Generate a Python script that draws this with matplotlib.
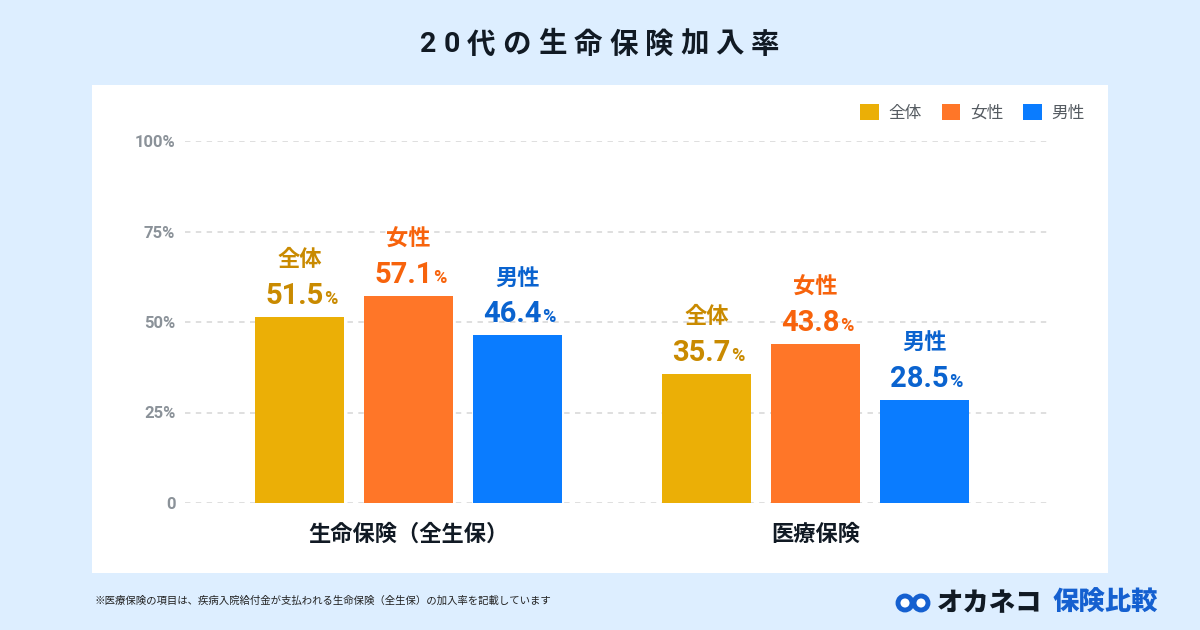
import matplotlib
matplotlib.use('Agg')
import matplotlib.pyplot as plt
from matplotlib.patches import Rectangle, Patch, Ellipse
import numpy as np

plt.rcParams['font.family'] = ['Noto Sans CJK JP', 'DejaVu Sans']
latin = ['Roboto', 'Noto Sans CJK JP']

title = '20代の生命保険加入率'
categories = ['生命保険（全生保）', '医療保険']
series = ['全体', '女性', '男性']
values = {
    '全体': [51.5, 35.7],
    '女性': [57.1, 43.8],
    '男性': [46.4, 28.5],
}
yticks = [0, 25, 50, 75, 100]
ytick_labels = ['0', '25%', '50%', '75%', '100%']
note = '※医療保険の項目は、疾病入院給付金が支払われる生命保険（全生保）の加入率を記載しています'

bar_colors = {'全体': '#ebaf06', '女性': '#ff7628', '男性': '#0a7cff'}
text_colors = {'全体': '#c98a00', '女性': '#f7630c', '男性': '#0a63cf'}

W, H = 1200, 630
fig = plt.figure(figsize=(W / 100, H / 100), dpi=100)
fig.patch.set_facecolor('#ddeeff')

# white panel
fig.patches.append(Rectangle((92 / W, 1 - 573 / H), 1016 / W, 488 / H,
                             transform=fig.transFigure, facecolor='white',
                             edgecolor='none', zorder=-10))

ax = fig.add_axes([185 / W, 1 - 503 / H, 865 / W, 362 / H])
ax.set_facecolor('none')

x = np.arange(len(categories))
step = 109 / 407
width = 89 / 407
for i, s in enumerate(series):
    pos = x + (i - 1) * step
    ax.bar(pos, values[s], width=width, color=bar_colors[s], zorder=3)
    for px, v in zip(pos, values[s]):
        ax.annotate(f'{v:.1f}', (px, v), xytext=(24, 13), textcoords='offset pixels',
                    ha='right', va='baseline', fontsize=21, fontweight='bold',
                    color=text_colors[s], family=latin)
        ax.annotate('%', (px, v), xytext=(25, 13), textcoords='offset pixels',
                    ha='left', va='baseline', fontsize=13, fontweight='bold',
                    color=text_colors[s], family=latin)
        ax.annotate(s, (px, v), xytext=(0, 57), textcoords='offset pixels',
                    ha='center', va='center', fontsize=16, fontweight='bold',
                    color=text_colors[s])

ax.set_xlim(-0.549, 1.576)
ax.set_ylim(0, 100)
ax.set_yticks(yticks)
ax.set_yticklabels(ytick_labels)
ax.set_xticks(x)
ax.set_xticklabels(categories)
for lbl in ax.get_yticklabels():
    lbl.set_fontsize(12)
    lbl.set_fontweight('bold')
    lbl.set_color('#8b9299')
    lbl.set_family(latin)
for lbl in ax.get_xticklabels():
    lbl.set_fontsize(16)
    lbl.set_fontweight('bold')
    lbl.set_color('#111a24')
ax.tick_params(axis='y', length=0, pad=7)
ax.tick_params(axis='x', length=0, pad=14)
ax.grid(axis='y', color='#dcdcdc', linestyle=(0, (3, 3)), linewidth=1.3, zorder=0)
ax.set_axisbelow(True)
for sp in ax.spines.values():
    sp.set_visible(False)

handles = [Patch(facecolor=bar_colors[s], edgecolor='none') for s in series]
fig.legend(handles, series, ncol=3, frameon=False, loc='upper right',
           bbox_to_anchor=(1100 / W, 1 - 89 / H), handlelength=1.1, handleheight=1.1,
           handletextpad=0.6, columnspacing=1.2,
           prop={'size': 12, 'family': ['Noto Sans CJK JP']}, labelcolor='#555b61')

fig.text(95 / W, 1 - 601 / H, note, ha='left', va='center', fontsize=7.5, color='#222222')

# title with letter spacing
renderer = fig.canvas.get_renderer()
chars = [fig.text(0, 1 - 45 / H, c, ha='left', va='center', fontsize=20.5,
                  fontweight='bold', color='#111a24', family=latin) for c in title]
widths = [t.get_window_extent(renderer).width for t in chars]
tracking = 7
total = sum(widths) + tracking * (len(chars) - 1)
cur = (W - total) / 2
for t, w in zip(chars, widths):
    t.set_x(cur / W)
    cur += w + tracking

# logo
for cx in (905, 921):
    fig.patches.append(Ellipse((cx / W, 1 - 603 / H), 14 / W, 14 / H,
                               transform=fig.transFigure, facecolor='white',
                               edgecolor='#1560d0', linewidth=3.5))
fig.text(937 / W, 1 - 603 / H, 'オカネコ', ha='left', va='center', fontsize=19,
         fontweight='heavy', color='#111a24')
fig.text(1053 / W, 1 - 603 / H, '保険比較', ha='left', va='center', fontsize=19,
         fontweight='heavy', color='#1560d0')

fig.savefig('out.png', dpi=100, facecolor=fig.get_facecolor())
